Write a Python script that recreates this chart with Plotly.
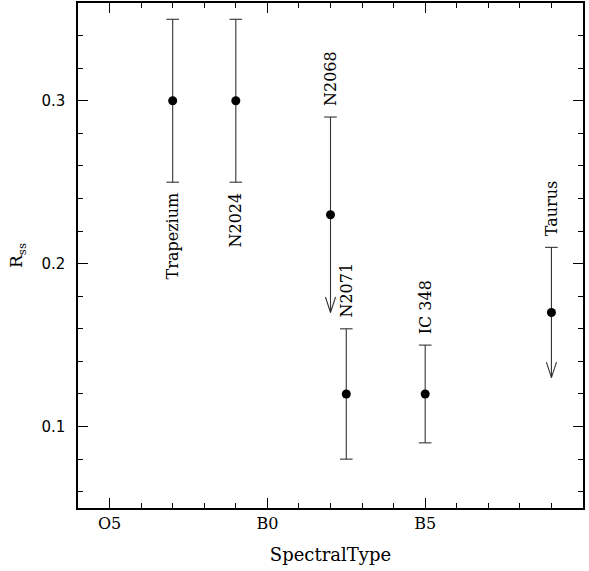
import plotly.graph_objects as go

# ---- data ----
names = ["Trapezium", "N2024", "N2068", "N2071", "IC 348", "Taurus"]
sptype = [7, 9, 12, 12.5, 15, 19]          # O5=5, B0=10, B5=15
rss = [0.30, 0.30, 0.23, 0.12, 0.12, 0.17]
rss_hi = [0.35, 0.35, 0.29, 0.16, 0.15, 0.21]
rss_lo = [0.25, 0.25, 0.17, 0.08, 0.09, 0.13]
is_upper_limit = [False, False, True, False, False, True]
label_side = ["below", "below", "above", "above", "above", "above"]
tick_vals = [5, 10, 15]
tick_text = ["O5", "B0", "B5"]

SERIF = "DejaVu Serif"
LINE = "#333333"

fig = go.Figure()

# vertical bars
bx, by = [], []
for x, lo, hi in zip(sptype, rss_lo, rss_hi):
    bx += [x, x, None]
    by += [lo, hi, None]
fig.add_trace(go.Scatter(x=bx, y=by, mode="lines", line=dict(color=LINE, width=1.1),
                         hoverinfo="skip", showlegend=False))

# caps
cx, cy = [], []
for x, lo, hi, ul in zip(sptype, rss_lo, rss_hi, is_upper_limit):
    cx.append(x); cy.append(hi)
    if not ul:
        cx.append(x); cy.append(lo)
fig.add_trace(go.Scatter(x=cx, y=cy, mode="markers",
                         marker=dict(symbol="line-ew", size=9, line=dict(color=LINE, width=1.1)),
                         hoverinfo="skip", showlegend=False))

# open V arrowheads for limits
ax_, ay_ = [], []
dx, dy = 0.16, 0.0095
for x, lo, ul in zip(sptype, rss_lo, is_upper_limit):
    if ul:
        ax_ += [x - dx, x, x + dx, None]
        ay_ += [lo + dy, lo, lo + dy, None]
fig.add_trace(go.Scatter(x=ax_, y=ay_, mode="lines", line=dict(color=LINE, width=1.1),
                         hoverinfo="skip", showlegend=False))

# points
fig.add_trace(go.Scatter(x=sptype, y=rss, mode="markers",
                         marker=dict(color="black", size=9, symbol="circle"),
                         showlegend=False))

# labels
for x, lo, hi, name, side in zip(sptype, rss_lo, rss_hi, names, label_side):
    if side == "below":
        fig.add_annotation(x=x, y=lo, text=name, textangle=-90, showarrow=False,
                           xanchor="center", yanchor="top", yshift=-8,
                           font=dict(family=SERIF, size=16, color="black"))
    else:
        fig.add_annotation(x=x, y=hi, text=name, textangle=-90, showarrow=False,
                           xanchor="center", yanchor="bottom", yshift=9,
                           font=dict(family=SERIF, size=16, color="black"))

axis_common = dict(showgrid=False, zeroline=False, showline=True, linecolor="black",
                   linewidth=1.5, mirror="ticks", ticks="inside", tickcolor="black",
                   tickwidth=1, automargin=False)

fig.update_xaxes(range=[4, 20], tickmode="array", tickvals=tick_vals, ticktext=tick_text,
                 ticklen=10,
                 minor=dict(dtick=1, tick0=5, ticks="inside", ticklen=5, tickcolor="black",
                            tickwidth=1, showgrid=False),
                 tickfont=dict(family=SERIF, size=16, color="black"),
                 title=dict(text="SpectralType", font=dict(family=SERIF, size=18, color="black"),
                            standoff=16),
                 **axis_common)
fig.update_yaxes(range=[0.05, 0.36], tick0=0, dtick=0.1, ticklen=10,
                 minor=dict(dtick=0.02, tick0=0, ticks="inside", ticklen=5, tickcolor="black",
                            tickwidth=1, showgrid=False),
                 tickfont=dict(family="DejaVu Sans", size=15, color="black"),
                 ticklabelstandoff=8,
                 title=dict(text="R<sub>ss</sub>", font=dict(family=SERIF, size=17, color="black"),
                            standoff=14),
                 **axis_common)

fig.update_layout(width=589, height=571, margin=dict(l=78, r=6, t=3, b=63),
                  plot_bgcolor="white", paper_bgcolor="white")

post = ("document.body.style.margin='0';document.body.style.padding='0';"
        "var gd=document.getElementById('{plot_id}');Plotly.relayout(gd,{width:589,height:571});")
fig.write_html("out.html", post_script=post, config={"displayModeBar": False})
